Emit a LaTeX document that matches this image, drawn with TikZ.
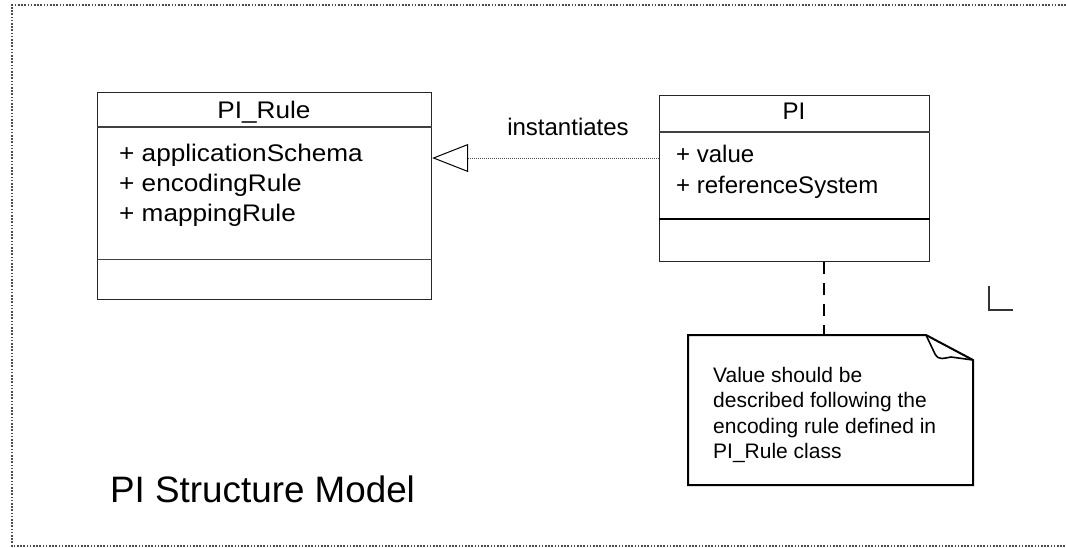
\documentclass[tikz,border=0pt]{standalone}
\usepackage{fontspec}
\setmainfont{Liberation Sans}
\usetikzlibrary{arrows.meta}

\newcommand{\widetxt}[1]{\scalebox{1.09}[1]{#1}}

\tikzset{
  classbox/.style={draw=black!85, line width=1.2pt, inner sep=0pt, anchor=north west},
  sepline/.style={draw=black!75, line width=1.2pt},
  boldsep/.style={draw=black, line width=2pt},
  classtxt/.style={inner sep=0pt, anchor=base west, font=\fontsize{24}{28}\selectfont},
  classname/.style={inner sep=0pt, anchor=base, font=\fontsize{24}{28}\selectfont},
  notetxt/.style={inner sep=0pt, anchor=base west, font=\fontsize{21}{25}\selectfont},
  realize/.style={draw=black!70, line width=0.9pt, dash pattern=on 1pt off 1pt,
    -{Triangle[open, length=36pt, width=28pt, line width=1pt, color=black]}},
  notelink/.style={draw=black, line width=2pt, dash pattern=on 12pt off 9pt},
  noteshape/.style={draw=black, line width=2pt, line join=miter},
  frame/.style={draw=black!70, line width=1.6pt, dash pattern=on 1.6pt off 1.6pt}
}

\begin{document}
\begin{tikzpicture}[x=1pt, y=-1pt]
  \useasboundingbox (0,0) rectangle (1066,547);

  % dotted frame (open on the right)
  \draw[frame] (1066,5) -- (12,5) -- (12,546) -- (1066,546);

  % class PI_Rule
  \node[classbox, minimum width=334pt, minimum height=207pt] (rule) at (97,92) {};
  \draw[sepline] ([yshift=-35pt]rule.north west) -- ([yshift=-35pt]rule.north east);
  \draw[sepline] ([yshift=41pt]rule.south west) -- ([yshift=41pt]rule.south east);
  \node[classname] (rulename) at (264,118) {\widetxt{PI\_Rule}};
  \node[classtxt] (ruleA) at (119,161) {\widetxt{+ applicationSchema}};
  \node[classtxt] (ruleB) at (119,191) {\widetxt{+ encodingRule}};
  \node[classtxt] (ruleC) at (119,221) {\widetxt{+ mappingRule}};

  % class PI
  \node[classbox, minimum width=270pt, minimum height=166pt] (pi) at (659,95) {};
  \draw[sepline] ([yshift=-37pt]pi.north west) -- ([yshift=-37pt]pi.north east);
  \draw[boldsep] ([yshift=43pt]pi.south west) -- ([yshift=43pt]pi.south east);
  \node[classname] (piname) at (794,119) {PI};
  \node[classtxt] (piA) at (676,162) {+ value};
  \node[classtxt] (piB) at (676,193) {+ referenceSystem};

  % realization PI -> PI_Rule
  \coordinate (linkrow) at (0,158);
  \draw[realize] (pi.west |- linkrow) -- (rule.east |- linkrow);
  \node[classname] (inst) at (568,135) {instantiates};

  % note
  \coordinate (nNW) at (688,335);
  \coordinate (nFold) at (926,335);
  \coordinate (nFoldB) at (973,360);
  \coordinate (nSE) at (973,485);
  \draw[noteshape] (nNW) -- (nFold) -- (nFoldB) -- (nSE) -- (nNW |- nSE) -- cycle;
  \draw[noteshape, line width=1.6pt] (nFold) -- (935,354)
     .. controls (939,361) and (944,358) .. (951,357) -- (nFoldB);
  \node[notetxt] (n1) at (713,382) {Value should be};
  \node[notetxt] (n2) at (713,407) {described following the};
  \node[notetxt] (n3) at (713,433) {encoding rule defined in};
  \node[notetxt] (n4) at (713,458) {PI\_Rule class};
  \coordinate (noteTop) at (824,335);
  \draw[notelink] (pi.south -| noteTop) -- (noteTop);

  % corner mark
  \coordinate (mk) at (989,310);
  \draw[draw=black!80, line width=1.4pt] (989,286) -- (mk) -- (1013,310);

  % title
  \node[inner sep=0pt, anchor=base west, font=\fontsize{36.8}{42}\selectfont] (title) at (110,502) {PI Structure Model};
\end{tikzpicture}
\end{document}
